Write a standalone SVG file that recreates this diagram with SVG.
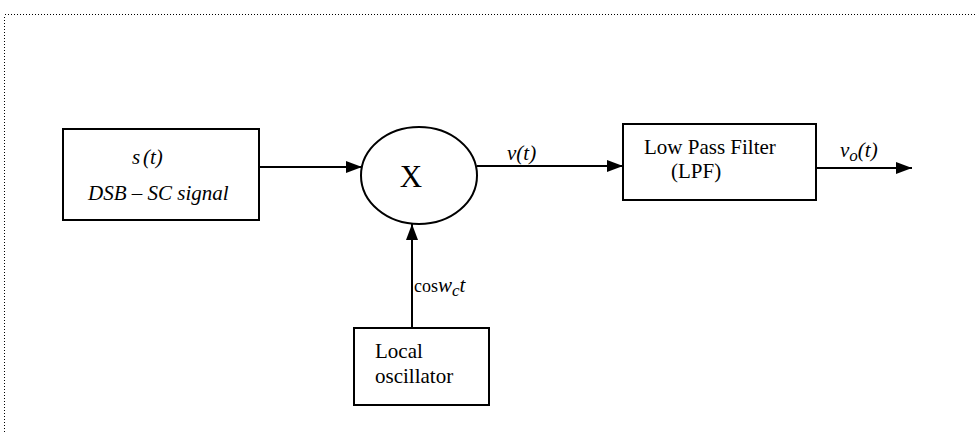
<svg xmlns="http://www.w3.org/2000/svg" width="977" height="432" viewBox="0 0 977 432">
<style>
.t{font-family:"Liberation Serif","Times New Roman",serif;font-size:21px;fill:#000}
.i{font-style:italic}
.box{fill:#fff;stroke:#000;stroke-width:2}
.ln{stroke:#000;stroke-width:2;fill:none}
</style>
<defs>
<marker id="ah" markerWidth="16" markerHeight="12" refX="16" refY="6" orient="auto" markerUnits="userSpaceOnUse">
<path d="M0,0 L16,6 L0,12 Z" fill="#000"/>
</marker>
</defs>
<rect x="4.5" y="14.5" width="1000" height="500" fill="none" stroke="#000" stroke-width="1" stroke-dasharray="1,2" shape-rendering="crispEdges"/>
<g id="connectors">
<line class="ln" x1="259" y1="167" x2="362" y2="167" marker-end="url(#ah)"/>
<line class="ln" x1="477" y1="166" x2="623" y2="166" marker-end="url(#ah)"/>
<line class="ln" x1="816" y1="168" x2="912" y2="168" marker-end="url(#ah)"/>
<line class="ln" x1="412" y1="328" x2="412" y2="224" marker-end="url(#ah)"/>
<text class="t i" x="507" y="160">v(t)</text>
<text class="t i" x="840" y="157">v<tspan style="font-size:17px" dy="4">o</tspan><tspan dy="-4">(t)</tspan></text>
<text class="t" x="414" y="292" style="font-size:18px">cos<tspan class="i" x="438" style="font-size:21px">w<tspan style="font-size:17px" dy="4">c</tspan><tspan dy="-4">t</tspan></tspan></text>
</g>
<g id="source">
<rect class="box" x="63" y="129" width="196" height="91"/>
<text class="t i" x="132" y="164">s<tspan x="143">(t)</tspan></text>
<text class="t i" x="88" y="200">DSB – SC signal</text>
</g>
<g id="mixer">
<ellipse class="ln" cx="419" cy="175.5" rx="58" ry="48.5" fill="#fff"/>
<text class="t" x="411" y="187" text-anchor="middle" style="font-size:31px">X</text>
</g>
<g id="lpf">
<rect class="box" x="623" y="124" width="193" height="76"/>
<text class="t" x="644" y="154">Low Pass Filter</text>
<text class="t" x="671" y="178">(LPF)</text>
</g>
<g id="oscillator">
<rect class="box" x="354" y="328" width="135" height="77"/>
<text class="t" x="375" y="358">Local</text>
<text class="t" x="375" y="383">oscillator</text>
</g>
</svg>
